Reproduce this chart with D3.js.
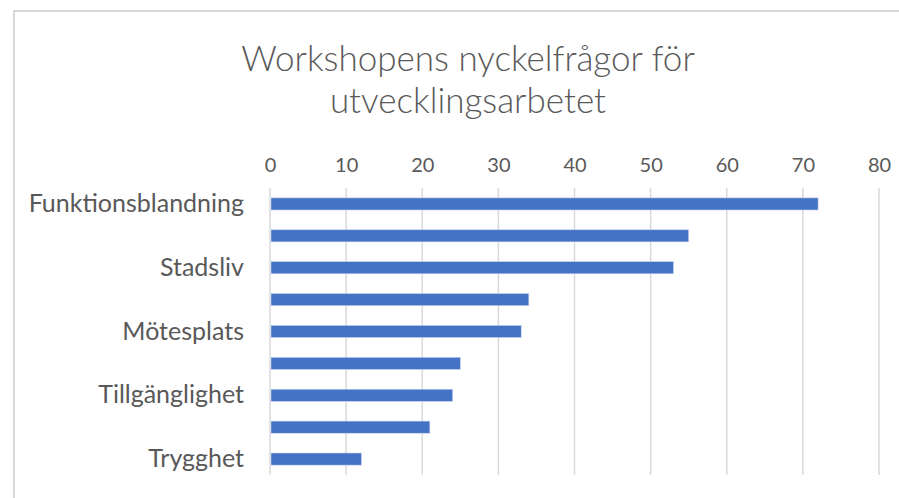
<!DOCTYPE html>
<html>
<head>
<meta charset="utf-8">
<script src="https://cdn.jsdelivr.net/npm/d3@7"></script>
<style>
  body { margin: 0; background: #ffffff; }
  svg text { font-family: Lato, "Noto Sans", sans-serif; fill: #595959; }
</style>
</head>
<body>
<div id="chart"></div>
<script>
// data (only every other category label is shown in the original)
const categories = ['Funktionsblandning', '', 'Stadsliv', '', 'Mötesplats', '', 'Tillgänglighet', '', 'Trygghet'];
const values = [72, 55, 53, 34, 33, 25, 24, 21, 12];
const xTicks = [0, 10, 20, 30, 40, 50, 60, 70, 80];
const titleLines = ['Workshopens nyckelfrågor för', 'utvecklingsarbetet'];

const W = 899, H = 498;
const margin = { top: 188, right: 20, bottom: 23, left: 270 },
  width = 879 - margin.left,
  height = 475 - margin.top;

const svg = d3
  .select('#chart')
  .append('svg')
  .attr('width', W)
  .attr('height', H);

// chart area border
svg
  .append('rect')
  .attr('x', 14)
  .attr('y', 11)
  .attr('width', W)
  .attr('height', H)
  .attr('fill', 'none')
  .attr('stroke', '#d9d9d9')
  .attr('stroke-width', 2);

// title
svg
  .append('g')
  .selectAll('text')
  .data(titleLines)
  .enter()
  .append('text')
  .attr('x', 468)
  .attr('y', (d, i) => 71 + i * 42)
  .attr('text-anchor', 'middle')
  .style('font-size', '35px')
  .style('font-weight', 300)
  .text(d => d);

const g = svg.append('g').attr('transform', `translate(${margin.left}, ${margin.top})`);

const x = d3.scaleLinear().domain([0, 80]).range([0, width]);
const y = d3
  .scaleBand()
  .domain(d3.range(categories.length))
  .range([0, height])
  .paddingInner(0.62)
  .paddingOuter(0.31);

// gridlines
g.append('g')
  .selectAll('line')
  .data(xTicks)
  .enter()
  .append('line')
  .attr('x1', d => x(d))
  .attr('x2', d => x(d))
  .attr('y1', 0)
  .attr('y2', height)
  .attr('stroke', '#d9d9d9')
  .attr('stroke-width', 1.5);

// top axis labels
const xAxis = g
  .append('g')
  .attr('transform', 'translate(0, -16)')
  .call(d3.axisTop(x).tickValues(xTicks).tickSize(0).tickPadding(0));
xAxis.select('.domain').remove();
xAxis.selectAll('text').style('font-size', '20px').attr('fill', '#595959');

// category labels
const yAxis = g
  .append('g')
  .attr('transform', 'translate(-26, 0)')
  .call(d3.axisLeft(y).tickFormat(i => categories[i]).tickSize(0).tickPadding(0));
yAxis.select('.domain').remove();
yAxis.selectAll('text').style('font-size', '25px').attr('fill', '#595959');

// bars
g.append('g')
  .selectAll('rect')
  .data(values)
  .enter()
  .append('rect')
  .attr('x', x(0) + 1)
  .attr('y', (d, i) => y(i))
  .attr('width', d => x(d) - x(0) - 1)
  .attr('height', y.bandwidth())
  .attr('fill', '#4472c4')
  .attr('stroke', '#c5d3ee')
  .attr('stroke-width', 0.6);
</script>
</body>
</html>
